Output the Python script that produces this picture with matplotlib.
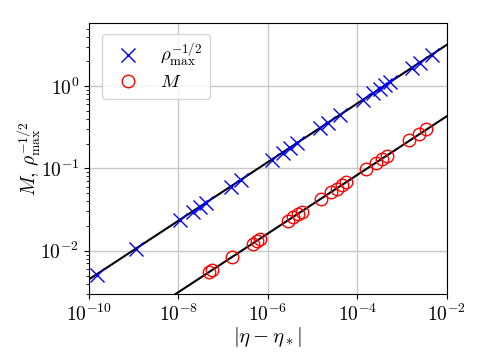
import matplotlib
matplotlib.use("Agg")
import matplotlib.pyplot as plt
import numpy as np

plt.rcParams['mathtext.fontset'] = 'cm'
plt.rcParams['font.family'] = 'serif'
plt.rcParams['font.serif'] = ['cmr10', 'DejaVu Serif']
plt.rcParams['axes.formatter.use_mathtext'] = True

# |eta - eta_*| for the rho_max^{-1/2} runs and their values
eta_rho = [1.48e-10, 1.14e-9, 1.07e-8, 2.09e-8, 3.02e-8, 4.07e-8, 1.48e-7,
           2.48e-7, 1.23e-6, 2.16e-6, 3.09e-6, 4.47e-6, 1.45e-5, 2.19e-5,
           4.07e-5, 1.35e-4, 2.24e-4, 3.24e-4, 4.17e-4, 5.37e-4, 1.66e-3,
           2.51e-3, 4.68e-3]
rho = [0.00507, 0.0105, 0.0234, 0.0297, 0.0338, 0.0377, 0.0597, 0.0718,
       0.127, 0.156, 0.177, 0.201, 0.306, 0.355, 0.443, 0.679, 0.815,
       0.929, 1.02, 1.11, 1.67, 1.93, 2.41]

# |eta - eta_*| for the mass runs and M
eta_m = [4.79e-8, 5.75e-8, 1.55e-7, 4.57e-7, 5.62e-7, 6.76e-7, 2.82e-6,
         3.63e-6, 4.68e-6, 5.75e-6, 1.55e-5, 2.57e-5, 3.47e-5, 4.57e-5,
         5.62e-5, 1.55e-4, 2.63e-4, 3.55e-4, 4.57e-4, 1.45e-3, 2.40e-3,
         3.47e-3]
mass = [0.0055, 0.0058, 0.0083, 0.0121, 0.0130, 0.0138, 0.0232, 0.0254,
        0.0277, 0.0298, 0.0428, 0.051, 0.057, 0.063, 0.068, 0.0973, 0.117,
        0.130, 0.142, 0.22, 0.262, 0.30]

# power-law fits: value = amp * eta**gamma
gamma = 0.356
amp_rho = 3.17 * (1e-2) ** (-gamma)
amp_m = 0.43 * (1e-2) ** (-gamma)

fig = plt.figure(figsize=(4.84, 3.63), dpi=100)
ax = fig.add_axes([0.184, 0.190, 0.739, 0.746])

eta_fit = np.logspace(-10, -2, 100)
ax.plot(eta_fit, amp_rho * eta_fit ** gamma, color='black', lw=1.5, zorder=2)
ax.plot(eta_fit, amp_m * eta_fit ** gamma, color='black', lw=1.5, zorder=2)

ax.plot(eta_rho, rho, 'x', color='blue', ms=9.5, mew=1.0, zorder=3,
        label=r'$\rho_{\max}^{-1/2}$')
ax.plot(eta_m, mass, 'o', color='red', mfc='none', ms=9, mew=1.0, zorder=3,
        label=r'$M$')

ax.set_xscale('log')
ax.set_yscale('log')
ax.set_xlim(1e-10, 1e-2)
ax.set_ylim(2.98e-3, 5.8)
ax.set_xticks([1e-10, 1e-8, 1e-6, 1e-4, 1e-2])
ax.xaxis.set_minor_locator(matplotlib.ticker.NullLocator())
ax.grid(True, which='major', color='#c8c8c8', lw=1.0)
ax.set_axisbelow(True)
ax.tick_params(labelsize=14)

ax.set_xlabel(r'$|\eta - \eta_*|$', fontsize=15, labelpad=0)
ax.set_ylabel(r'$M,\, \rho_{\max}^{-1/2}$', fontsize=14, labelpad=-2)

ax.legend(loc='upper left', fontsize=13.5, handletextpad=0.7,
          labelspacing=0.25, borderpad=0.4, bbox_to_anchor=(0.01, 0.995))

fig.savefig('out.png', dpi=100)
